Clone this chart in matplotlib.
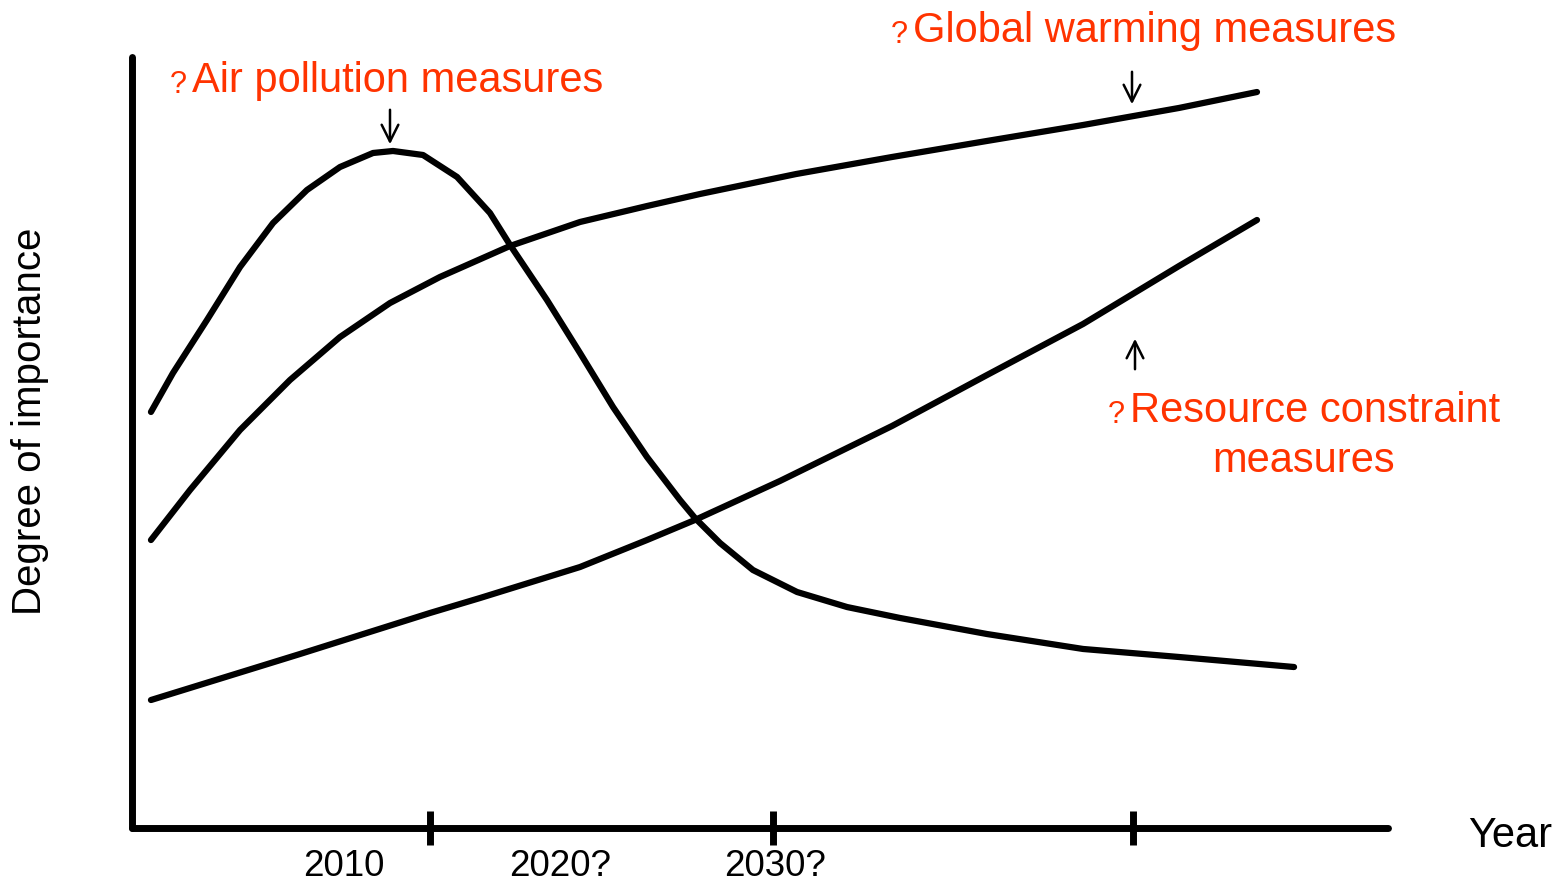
import numpy as np
import matplotlib.pyplot as plt

plt.rcParams['font.family'] = ['Liberation Sans', 'DejaVu Sans']

# curve data (x: time position 0-100 along axis, y: degree of importance 0-100)
air_x = [1.51, 3.26, 5.97, 8.60, 11.23, 13.93, 16.56, 19.19, 20.78, 23.17, 25.88,
         28.50, 30.10, 33.04, 35.67, 38.30, 41.00, 43.63, 44.82, 46.82, 49.44,
         52.95, 56.93, 61.15, 68.07, 75.72, 83.36, 92.52]
air_y = [53.96, 59.01, 65.89, 72.76, 78.47, 82.75, 85.73, 87.55, 87.81, 87.29, 84.44,
         79.77, 75.62, 68.48, 61.61, 54.60, 48.12, 42.54, 40.21, 36.96, 33.46,
         30.61, 28.66, 27.24, 25.16, 23.22, 22.18, 20.88]

warm_x = [1.51, 4.62, 8.60, 12.58, 16.56, 20.54, 24.52, 30.10, 35.67, 41.00, 45.22,
          52.87, 60.51, 68.07, 75.72, 83.36, 89.57]
warm_y = [37.35, 43.84, 51.62, 58.11, 63.68, 68.09, 71.47, 75.49, 78.60, 80.67, 82.23,
          84.82, 87.03, 89.11, 91.18, 93.39, 95.46]

res_x = [1.51, 13.38, 23.73, 27.71, 35.67, 41.00, 44.82, 51.59, 60.51, 68.07, 75.72,
         83.36, 89.57]
res_y = [16.60, 22.57, 27.89, 29.83, 33.85, 37.35, 39.95, 45.01, 52.14, 58.75, 65.37,
         72.89, 78.86]

tick_pos = [23.7, 51.0, 79.7]
year_labels = ['2010', '2020?', '2030?']
year_label_pos = [16.9, 34.1, 51.2]

red = '#ff3300'
W, H = 1561, 883
fig = plt.figure(figsize=(W / 100, H / 100), dpi=100)
ax = fig.add_axes([132 / W, 1 - 828 / H, (1388 - 132) / W, (828 - 57) / H])
ax.set_xlim(0, 100)
ax.set_ylim(0, 100)

for xs, ys in [(air_x, air_y), (warm_x, warm_y), (res_x, res_y)]:
    ax.plot(xs, ys, color='black', lw=4.5, solid_capstyle='round',
            solid_joinstyle='round', clip_on=False)

for s in ['top', 'right']:
    ax.spines[s].set_visible(False)
for s in ['left', 'bottom']:
    ax.spines[s].set_linewidth(5)
    ax.spines[s].set_capstyle('round')

ax.set_yticks([])
ax.set_xticks(tick_pos)
ax.set_xticklabels([])
ax.tick_params(axis='x', direction='inout', length=24, width=5, color='black')

for lab, xp in zip(year_labels, year_label_pos):
    ax.text(xp, -5.0, lab, ha='center', va='center', fontsize=26.5)

# overlay in pixel space for annotations
ov = fig.add_axes([0, 0, 1, 1])
ov.set_xlim(0, W)
ov.set_ylim(H, 0)
ov.axis('off')


def label(x, y, s):
    ov.text(x - 5, y + 4, '?', color=red, fontsize=22, ha='right', va='center')
    ov.text(x, y, s, color=red, fontsize=30, ha='left', va='center')


label(192, 81, 'Air pollution measures')
label(913, 31, 'Global warming measures')
label(1130, 411, 'Resource constraint')
ov.text(1304, 461, 'measures', color=red, fontsize=30, ha='center', va='center')

arrow = dict(arrowstyle='->', lw=1.8, color='black', mutation_scale=30)
ov.annotate('', xy=(390, 147), xytext=(390, 107), arrowprops=arrow)
ov.annotate('', xy=(1132, 107), xytext=(1132, 69), arrowprops=arrow)
ov.annotate('', xy=(1135, 336), xytext=(1135, 372), arrowprops=arrow)

ov.text(1468, 836, 'Year', fontsize=30, ha='left', va='center')
ov.text(30, 421, 'Degree of importance', fontsize=29, rotation=90,
        ha='center', va='center')

fig.savefig('out.png', dpi=100)
